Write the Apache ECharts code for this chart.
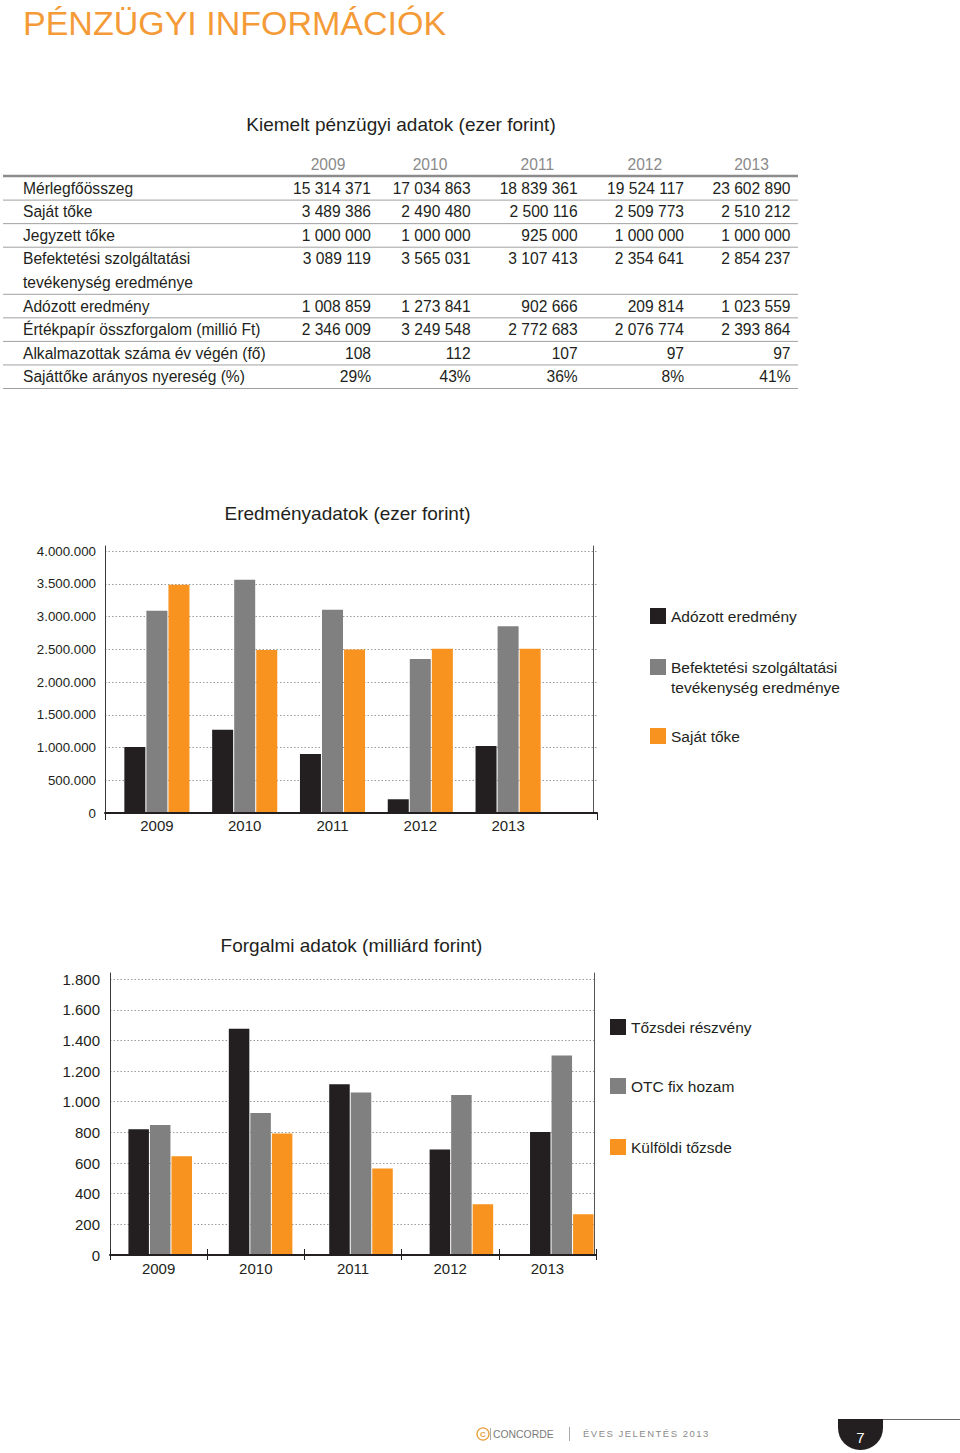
<!DOCTYPE html>
<html>
<head>
<meta charset="utf-8">
<script src="https://cdn.jsdelivr.net/npm/echarts@6/dist/echarts.min.js"></script>
<style>
html,body{margin:0;padding:0;background:#fff;}
#page{position:relative;width:960px;height:1453px;}
#chart{position:absolute;left:0;top:0;width:960px;height:1453px;}
#footer-text{position:absolute;left:583px;top:1428px;font:9.5px 'Liberation Sans',Arial,sans-serif;letter-spacing:1.5px;color:#8a8a8a;white-space:nowrap;line-height:12px;}
</style>
</head>
<body>
<div id="page">
  <div id="chart"></div>
  <div id="footer-text">ÉVES JELENTÉS 2013</div>
</div>
<script>
// ---------- DATA ----------
const years = ['2009', '2010', '2011', '2012', '2013'];

// Table: Kiemelt pénzügyi adatok (ezer forint)
const merlegfoosszeg      = [15314371, 17034863, 18839361, 19524117, 23602890];
const sajatToke           = [3489386, 2490480, 2500116, 2509773, 2510212];
const jegyzettToke        = [1000000, 1000000, 925000, 1000000, 1000000];
const befektetesiEredmeny = [3089119, 3565031, 3107413, 2354641, 2854237];
const adozottEredmeny     = [1008859, 1273841, 902666, 209814, 1023559];
const ertekpapirForgalom  = [2346009, 3249548, 2772683, 2076774, 2393864];
const alkalmazottak       = [108, 112, 107, 97, 97];
const sajattokeNyereseg   = [29, 43, 36, 8, 41];

// Chart 2: Forgalmi adatok (milliárd forint)
const tozsdeiReszveny = [821, 1477, 1114, 689, 802];
const otcFixHozam     = [848, 926, 1061, 1044, 1301];
const kulfoldiTozsde  = [645, 793, 565, 331, 266];

// Axis ticks
const chart1Max = 4080000, chart1Interval = 500000;
const chart2Max = 1840, chart2Interval = 200;

// ---------- STYLE ----------
const FONT = "'Liberation Sans', Arial, Helvetica, sans-serif";
const DARK = '#231f20';
const GRAYBAR = '#808080';
const ORANGE = '#f7931e';
const GRID = '#9a9a9a';

const fmtSpace = n => String(n).replace(/\B(?=(\d{3})+(?!\d))/g, ' ');
const fmtDot = n => String(n).replace(/\B(?=(\d{3})+(?!\d))/g, '.');

// ---------- TABLE (graphic text) ----------
const tableRows = [
  { label: ['Mérlegfőösszeg'], vals: merlegfoosszeg.map(fmtSpace) },
  { label: ['Saját tőke'], vals: sajatToke.map(fmtSpace) },
  { label: ['Jegyzett tőke'], vals: jegyzettToke.map(fmtSpace) },
  { label: ['Befektetési szolgáltatási', 'tevékenység eredménye'], vals: befektetesiEredmeny.map(fmtSpace) },
  { label: ['Adózott eredmény'], vals: adozottEredmeny.map(fmtSpace) },
  { label: ['Értékpapír összforgalom (millió Ft)'], vals: ertekpapirForgalom.map(fmtSpace) },
  { label: ['Alkalmazottak száma év végén (fő)'], vals: alkalmazottak.map(String) },
  { label: ['Sajáttőke arányos nyereség (%)'], vals: sajattokeNyereseg.map(v => v + '%') }
];
const colRight = [371, 470.7, 577.7, 684, 790.5];
const headCenter = [328, 430, 537.3, 644.8, 751.5];
const rowStart = 188.3, rowStep = 23.55, tableFS = 15.6;
const graphics = [];
function txt(x, y, text, opt) {
  graphics.push(Object.assign({
    type: 'text', x: x, y: y, silent: true,
    style: Object.assign({ text: text, fill: DARK, fontSize: tableFS, fontFamily: FONT, align: 'left', verticalAlign: 'middle' }, opt || {})
  }));
}
function line(x1, y1, x2, y2, stroke, w) {
  graphics.push({ type: 'line', silent: true, shape: { x1: x1, y1: y1, x2: x2, y2: y2 }, style: { stroke: stroke, lineWidth: w } });
}
// main title
txt(23, 23, 'PÉNZÜGYI INFORMÁCIÓK', { fill: '#f49b38', fontSize: 34 });
// section titles
txt(401, 124, 'Kiemelt pénzügyi adatok (ezer forint)', { fontSize: 19, align: 'center' });
txt(347.5, 513, 'Eredményadatok (ezer forint)', { fontSize: 19, align: 'center' });
txt(351.5, 945, 'Forgalmi adatok (milliárd forint)', { fontSize: 19, align: 'center' });
// header
years.forEach((y, i) => txt(headCenter[i], 164, y, { fill: '#8a8a8a', align: 'center' }));
line(3, 176, 798, 176, '#8c8c8c', 2.5);
let li = 0;
tableRows.forEach(r => {
  const yc = rowStart + rowStep * li;
  r.label.forEach((t, k) => txt(23, yc + rowStep * k, t));
  r.vals.forEach((v, i) => txt(colRight[i], yc, v, { align: 'right' }));
  li += r.label.length;
  const ly = rowStart + rowStep * (li - 1) + 11.8;
  line(3, ly, 798, ly, '#a0a0a0', 1);
});
// footer
graphics.push({ type: 'circle', silent: true, shape: { cx: 483, cy: 1434, r: 6 }, style: { fill: 'none', stroke: '#e8a040', lineWidth: 1.3 } });
txt(483, 1434.5, 'C', { fill: '#e8a040', fontSize: 8, align: 'center', fontWeight: 'bold' });
line(490.5, 1428, 490.5, 1440, '#999', 0.8);
txt(493, 1434.5, 'CONCORDE', { fill: '#7a7a7a', fontSize: 10.4 });
line(569.5, 1427, 569.5, 1441, '#aaa', 1);
line(838, 1419.5, 960, 1419.5, '#666', 1);
graphics.push({ type: 'rect', silent: true, shape: { x: 838, y: 1419, width: 45, height: 31, r: [0, 0, 22, 22] }, style: { fill: DARK } });
txt(860.5, 1437, '7', { fill: '#fff', fontSize: 15, align: 'center' });

// ---------- CHART OPTIONS ----------
const legendBase = {
  orient: 'vertical', icon: 'rect', itemWidth: 16, itemHeight: 16, padding: 0, selectedMode: false,
  textStyle: { fontSize: 15.5, color: DARK, fontFamily: FONT, lineHeight: 20 }
};
const hiddenCat = (grid) => ({ type: 'category', gridIndex: grid, data: years, show: false });
const hiddenVal = (grid, max) => ({ type: 'value', gridIndex: grid, min: 0, max: max, show: false });

const option = {
  animation: false,
  backgroundColor: '#fff',
  textStyle: { fontFamily: FONT },
  graphic: { elements: graphics },
  grid: [
    { left: 105, top: 546, width: 492, height: 267, outerBoundsMode: 'none' },
    { left: 113, top: 546, width: 439, height: 267, outerBoundsMode: 'none' },
    { left: 110, top: 973, width: 486, height: 282, outerBoundsMode: 'none' },
    { left: 110, top: 973, width: 502, height: 282, outerBoundsMode: 'none' }
  ],
  xAxis: [
    { type: 'category', gridIndex: 0, data: [''], position: 'bottom', z: 5,
      axisLine: { lineStyle: { color: DARK, width: 2 } },
      axisTick: { show: true, length: 7, lineStyle: { color: DARK, width: 1 } },
      axisLabel: { show: false }, splitLine: { show: false } },
    { type: 'category', gridIndex: 1, data: years, position: 'bottom',
      axisLine: { show: false }, axisTick: { show: false },
      axisLabel: { fontSize: 15, color: DARK, margin: 5, fontFamily: FONT } },
    { type: 'category', gridIndex: 2, data: years, position: 'bottom', z: 5,
      axisLine: { lineStyle: { color: DARK, width: 2 } },
      axisTick: { show: true, length: 5, lineStyle: { color: DARK, width: 1 } },
      axisLabel: { fontSize: 15, color: DARK, margin: 6, fontFamily: FONT } },
    { type: 'category', gridIndex: 2, data: years, position: 'bottom', z: 5,
      axisLine: { show: false },
      axisTick: { show: true, inside: true, length: 6, lineStyle: { color: DARK, width: 1 } },
      axisLabel: { show: false } },
    hiddenCat(3)
  ],
  yAxis: [
    { type: 'value', gridIndex: 0, min: 0, max: chart1Max, interval: chart1Interval,
      axisLine: { show: true, lineStyle: { color: '#3a3a3a', width: 1 } },
      axisTick: { show: false },
      axisLabel: { fontSize: 13.3, color: DARK, margin: 9, showMaxLabel: false, formatter: fmtDot, fontFamily: FONT },
      splitLine: { show: true, showMinLine: false, showMaxLine: false, lineStyle: { color: GRID, type: [1.5, 2], width: 1 } } },
    { type: 'value', gridIndex: 0, position: 'right', offset: -4, min: 0, max: chart1Max, z: 5,
      axisLine: { show: true, lineStyle: { color: '#555', width: 1 } },
      axisTick: { show: false }, axisLabel: { show: false }, splitLine: { show: false } },
    hiddenVal(1, chart1Max),
    { type: 'value', gridIndex: 2, min: 0, max: chart2Max, interval: chart2Interval,
      axisLine: { show: true, lineStyle: { color: '#3a3a3a', width: 1 } },
      axisTick: { show: false },
      axisLabel: { fontSize: 15, color: DARK, margin: 10, showMaxLabel: false, formatter: fmtDot, fontFamily: FONT },
      splitLine: { show: true, showMinLine: false, showMaxLine: false, lineStyle: { color: GRID, type: [1.5, 2], width: 1 } } },
    { type: 'value', gridIndex: 2, position: 'right', offset: -2, min: 0, max: chart2Max, z: 5,
      axisLine: { show: true, lineStyle: { color: '#555', width: 1 } },
      axisTick: { show: false }, axisLabel: { show: false }, splitLine: { show: false } },
    hiddenVal(3, chart2Max)
  ],
  legend: [
    Object.assign({}, legendBase, { data: ['Adózott eredmény'], left: 650, top: 606 }),
    Object.assign({}, legendBase, { data: ['Befektetési szolgáltatási tevékenység eredménye'], left: 650, top: 637,
      formatter: n => ' \n' + n.replace(' tevékenység', '\ntevékenység') }),
    Object.assign({}, legendBase, { data: ['Saját tőke'], left: 650, top: 726 }),
    Object.assign({}, legendBase, { data: ['Tőzsdei részvény'], left: 610, top: 1017 }),
    Object.assign({}, legendBase, { data: ['OTC fix hozam'], left: 610, top: 1076 }),
    Object.assign({}, legendBase, { data: ['Külföldi tőzsde'], left: 610, top: 1137 })
  ],
  series: [
    { name: 'Adózott eredmény', type: 'bar', xAxisIndex: 1, yAxisIndex: 2, data: adozottEredmeny, barWidth: 21, barGap: '5%', itemStyle: { color: DARK } },
    { name: 'Befektetési szolgáltatási tevékenység eredménye', type: 'bar', xAxisIndex: 1, yAxisIndex: 2, data: befektetesiEredmeny, barWidth: 21, barGap: '5%', itemStyle: { color: GRAYBAR } },
    { name: 'Saját tőke', type: 'bar', xAxisIndex: 1, yAxisIndex: 2, data: sajatToke, barWidth: 21, barGap: '5%', itemStyle: { color: ORANGE } },
    { name: 'Tőzsdei részvény', type: 'bar', xAxisIndex: 4, yAxisIndex: 5, data: tozsdeiReszveny, barWidth: 20.5, barGap: '5%', itemStyle: { color: DARK } },
    { name: 'OTC fix hozam', type: 'bar', xAxisIndex: 4, yAxisIndex: 5, data: otcFixHozam, barWidth: 20.5, barGap: '5%', itemStyle: { color: GRAYBAR } },
    { name: 'Külföldi tőzsde', type: 'bar', xAxisIndex: 4, yAxisIndex: 5, data: kulfoldiTozsde, barWidth: 20.5, barGap: '5%', itemStyle: { color: ORANGE } }
  ]
};

const chart = echarts.init(document.getElementById('chart'), null, { renderer: 'svg', width: 960, height: 1453 });
chart.setOption(option);
</script>
</body>
</html>
